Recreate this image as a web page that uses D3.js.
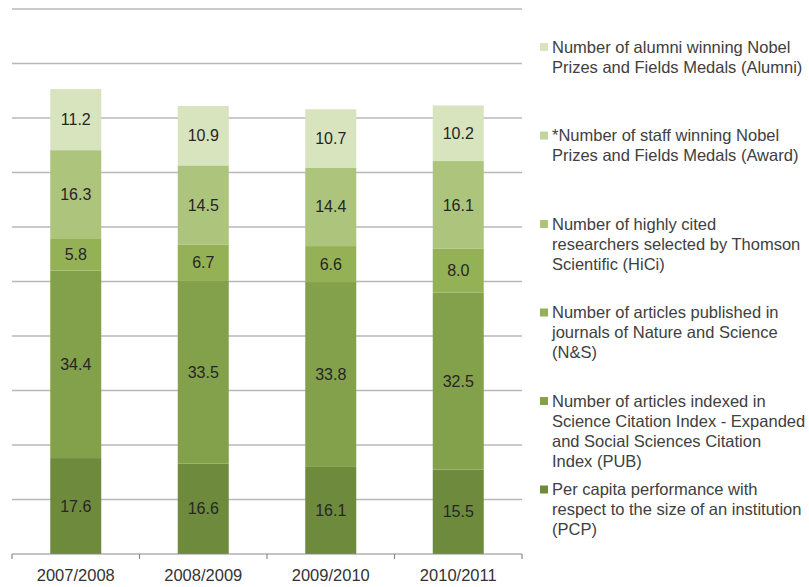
<!DOCTYPE html>
<html>
<head>
<meta charset="utf-8">
<script src="https://cdn.jsdelivr.net/npm/d3@7"></script>
<style>
  body { margin: 0; background: #fff; }
  svg text { font-family: Arial, "Liberation Sans", Helvetica, sans-serif; }
</style>
</head>
<body>
<div id="chart"></div>
<script>
// values
var categories = ["2007/2008", "2008/2009", "2009/2010", "2010/2011"];

var pcp    = [17.6, 16.6, 16.1, 15.5];
var pub    = [34.4, 33.5, 33.8, 32.5];
var ns     = [5.8, 6.7, 6.6, 8.0];
var hici   = [16.3, 14.5, 14.4, 16.1];
var award  = [0, 0, 0, 0];
var alumni = [11.2, 10.9, 10.7, 10.2];

// legend order (top to bottom)
var seriesKeys = ["alumni", "award", "hici", "ns", "pub", "pcp"];
var seriesLabels = [
    ["Number of alumni winning Nobel", "Prizes and Fields Medals (Alumni)"],
    ["*Number of staff winning Nobel", "Prizes and Fields Medals (Award)"],
    ["Number of highly cited", "researchers selected by Thomson", "Scientific (HiCi)"],
    ["Number of articles published in", "journals of Nature and Science", "(N&S)"],
    ["Number of articles indexed in", "Science Citation Index - Expanded", "and Social Sciences Citation", "Index (PUB)"],
    ["Per capita performance with", "respect to the size of an institution", "(PCP)"]
];
var seriesColors = ["#d7e4bd", "#c2d59c", "#acc47c", "#95b156", "#83a04a", "#6e8a3c"];

var yTicks = [0, 10, 20, 30, 40, 50, 60, 70, 80, 90, 100];

var W = 809, H = 587;
var margin = { top: 9, right: 287, bottom: 33, left: 12 },
    width = W - margin.left - margin.right,
    height = H - margin.top - margin.bottom;

var rows = categories.map(function(c, i) {
    return { cat: c, pcp: pcp[i], pub: pub[i], ns: ns[i], hici: hici[i], award: award[i], alumni: alumni[i] };
});

var stackOrder = seriesKeys.slice().reverse();   // PCP at the bottom
var stacked = d3.stack().keys(stackOrder)(rows);

var color = d3.scaleOrdinal().domain(seriesKeys).range(seriesColors);

var x = d3.scaleBand().domain(categories).range([0, width]).paddingInner(0.6).paddingOuter(0.3);
var y = d3.scaleLinear().domain([0, 100]).range([height, 0]);

var svg = d3.select("#chart").append("svg")
    .attr("width", W)
    .attr("height", H)
  .append("g")
    .attr("transform", "translate(" + margin.left + "," + margin.top + ")");

// gridlines
svg.append("g")
    .selectAll("line")
    .data(yTicks.filter(function(d) { return d > 0; }))
    .enter().append("line")
    .attr("x1", 0)
    .attr("x2", width)
    .attr("y1", function(d) { return y(d); })
    .attr("y2", function(d) { return y(d); })
    .attr("stroke", "#b8b8b8")
    .attr("stroke-width", 1.6);

// bars
var layer = svg.selectAll("g.layer")
    .data(stacked)
    .enter().append("g")
    .attr("class", "layer")
    .attr("fill", function(d) { return color(d.key); });

layer.selectAll("rect")
    .data(function(d) { return d; })
    .enter().append("rect")
    .attr("x", function(d) { return x(d.data.cat); })
    .attr("width", x.bandwidth())
    .attr("y", function(d) { return y(d[1]); })
    .attr("height", function(d) { return y(d[0]) - y(d[1]); });

// value labels
layer.selectAll("text")
    .data(function(d) { return d.filter(function(p) { return p[1] - p[0] > 0; }); })
    .enter().append("text")
    .attr("x", function(d) { return x(d.data.cat) + x.bandwidth() / 2; })
    .attr("y", function(d) { return y((d[0] + d[1]) / 2); })
    .attr("dy", "0.35em")
    .attr("text-anchor", "middle")
    .attr("fill", "#262626")
    .style("font-size", "16px")
    .text(function(d) { return d3.format(".1f")(d[1] - d[0]); });

// x axis
var step = x.step();
var edges = d3.range(categories.length + 1).map(function(i) { return i * step; });
var xAxis = svg.append("g").attr("transform", "translate(0," + height + ")");
xAxis.append("line")
    .attr("x1", 0).attr("x2", width)
    .attr("stroke", "#8a8a8a").attr("stroke-width", 1.2);
xAxis.selectAll("line.tick")
    .data(edges)
    .enter().append("line")
    .attr("class", "tick")
    .attr("x1", function(d) { return d; })
    .attr("x2", function(d) { return d; })
    .attr("y1", 0).attr("y2", 5)
    .attr("stroke", "#8a8a8a").attr("stroke-width", 1.2);
xAxis.selectAll("text")
    .data(categories)
    .enter().append("text")
    .attr("x", function(d) { return x(d) + x.bandwidth() / 2; })
    .attr("y", 21)
    .attr("dy", "0.35em")
    .attr("text-anchor", "middle")
    .attr("fill", "#333")
    .style("font-size", "16.5px")
    .text(function(d) { return d; });

// legend
var legend = d3.select("svg").append("g")
    .attr("transform", "translate(540,47)");

var item = legend.selectAll("g")
    .data(seriesKeys)
    .enter().append("g")
    .attr("transform", function(d, i) { return "translate(0," + i * 88.5 + ")"; });

item.append("rect")
    .attr("x", 0).attr("y", -4)
    .attr("width", 8).attr("height", 8)
    .attr("fill", function(d) { return color(d); });

item.append("text")
    .attr("x", 12)
    .attr("y", 0)
    .attr("fill", "#404040")
    .style("font-size", "16.5px")
    .selectAll("tspan")
    .data(function(d, i) { return seriesLabels[i]; })
    .enter().append("tspan")
    .attr("x", 12)
    .attr("y", function(d, j) { return j * 20; })
    .attr("dy", "0.35em")
    .text(function(d) { return d; });
</script>
</body>
</html>
